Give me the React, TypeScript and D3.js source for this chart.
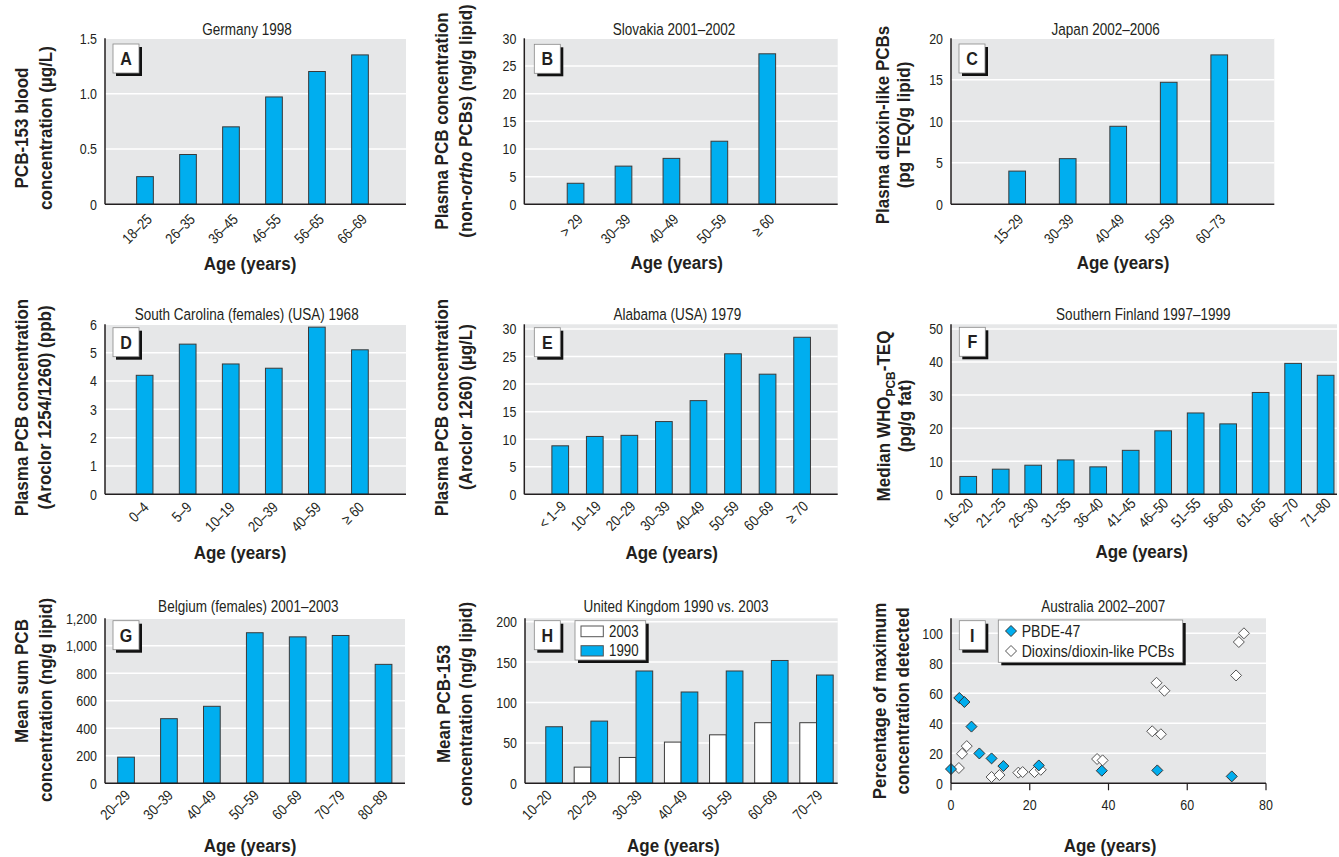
import React from 'react';
import * as d3 from 'd3';

// ---------------- DATA ----------------
const ageA = ['18–25', '26–35', '36–45', '46–55', '56–65', '66–69'];
const valA = [0.25, 0.45, 0.7, 0.97, 1.2, 1.35];

const ageB = ['> 29', '30–39', '40–49', '50–59', '≥ 60'];
const valB = [3.8, 6.9, 8.3, 11.4, 27.2];

const ageC = ['15–29', '30–39', '40–49', '50–59', '60–73'];
const valC = [4.0, 5.5, 9.4, 14.7, 18.0];

const ageD = ['0–4', '5–9', '10–19', '20–39', '40–59', '≥ 60'];
const valD = [4.2, 5.3, 4.6, 4.45, 5.9, 5.1];

const ageE = ['< 1–9', '10–19', '20–29', '30–39', '40–49', '50–59', '60–69', '≥ 70'];
const valE = [8.8, 10.5, 10.7, 13.2, 17.0, 25.5, 21.8, 28.5];

const ageF = ['16–20', '21–25', '26–30', '31–35', '36–40', '41–45', '46–50', '51–55', '56–60', '61–65', '66–70', '71–80'];
const valF = [5.4, 7.6, 8.8, 10.4, 8.3, 13.3, 19.2, 24.6, 21.3, 30.8, 39.6, 36.0];

const ageG = ['20–29', '30–39', '40–49', '50–59', '60–69', '70–79', '80–89'];
const valG = [190, 470, 560, 1095, 1065, 1075, 865];

const ageH = ['10–20', '20–29', '30–39', '40–49', '50–59', '60–69', '70–79'];
const valH2003: (number | null)[] = [null, 20, 32, 51, 60, 75, 75];
const valH1990 = [70, 77, 139, 113, 139, 152, 134];

const pbdeAge = [0, 2.1, 3.4, 5.2, 7.2, 10.3, 13.3, 22.3, 38.3, 52.4, 71.3];
const pbdePct = [9.5, 56.9, 54.2, 37.8, 19.9, 16.6, 11.5, 11.9, 8.4, 8.6, 4.6];
const dioxAge = [2.0, 2.8, 4.0, 10.3, 12.3, 17.1, 18.2, 21.2, 22.8, 37.1, 38.5, 51.1, 53.3, 52.2, 54.2, 72.4, 73.1, 74.4];
const dioxPct = [10.2, 19.7, 24.8, 4.2, 5.5, 7.1, 7.5, 7.5, 9.0, 16.2, 15.3, 34.7, 32.7, 67.0, 61.7, 71.9, 94.2, 100];

const ticksA = [0, 0.5, 1.0, 1.5];
const ticksB = [0, 5, 10, 15, 20, 25, 30];
const ticksC = [0, 5, 10, 15, 20];
const ticksD = [0, 1, 2, 3, 4, 5, 6];
const ticksE = [0, 5, 10, 15, 20, 25, 30];
const ticksF = [0, 10, 20, 30, 40, 50];
const ticksG = [0, 200, 400, 600, 800, 1000, 1200];
const ticksH = [0, 50, 100, 150, 200];
const ticksIy = [0, 20, 40, 60, 80, 100];
const ticksIx = [0, 20, 40, 60, 80];

// ---------------- STYLE ----------------
const FONT = "'Liberation Sans', Arial, sans-serif";
const BLUE = '#00aeef';
const BG = '#e6e7e8';
const INK = '#231f20';
const BAR_W = 16.7;
const SX_REG = 0.83;
const SX_BOLD = 0.92;

function NT({ x, y, r = 0, sx = SX_REG, anchor = 'start', size = 15, bold = false, italic = false, dy, children }: {
  x: number; y: number; r?: number; sx?: number; anchor?: string; size?: number; bold?: boolean; italic?: boolean; dy?: string;
  children: React.ReactNode;
}) {
  return (
    <g transform={`translate(${x},${y}) rotate(${r}) scale(${sx},1)`}>
      <text textAnchor={anchor as any} fontSize={size} fontWeight={bold ? 'bold' : 'normal'} fontStyle={italic ? 'italic' : 'normal'}
        fill={INK} fontFamily={FONT} dy={dy}>{children}</text>
    </g>
  );
}

type Layout = {
  x0: number; x1: number; top: number; bottom: number; bgTop?: number;
  max: number; ticks: number[]; padL: number; padR: number;
  titleX: number; titleY: number; ageX: number; ageY: number;
  yTitleX: [number, number]; yTitleY: [number, number];
  boxX: number; boxY: number; tdx: number; tdy: number;
  fmt: (v: number) => string;
};

const fmtA = (v: number) => (v === 0 ? '0' : d3.format('.1f')(v));
const fmtInt = (v: number) => d3.format(',')(v);

function Frame({ L, letter, title, yTitle }: { L: Layout; letter: string; title: string; yTitle: React.ReactNode[] }) {
  const y = d3.scaleLinear().domain([0, L.max]).range([L.bottom, L.top]);
  const bgTop = L.bgTop ?? L.top;
  return (
    <g>
      <rect x={L.x0} y={bgTop} width={L.x1 - L.x0} height={L.bottom - bgTop} fill={BG} />
      {L.ticks.filter((t) => t > 0).map((t) => (
        <line key={t} x1={L.x0} x2={L.x1} y1={y(t)} y2={y(t)} stroke="#fff" strokeWidth={1.5} />
      ))}
      {L.ticks.map((t) => (
        <NT key={'l' + t} x={L.x0 - 8} y={y(t) + 5.4} anchor="end" size={15}>{L.fmt(t)}</NT>
      ))}
      <NT x={L.titleX} y={L.titleY} anchor="middle" size={16.3}>{title}</NT>
      <NT x={L.ageX} y={L.ageY} anchor="middle" size={18.5} bold sx={SX_BOLD}>Age (years)</NT>
      {yTitle.map((line, i) => (
        <NT key={'yt' + i} x={L.yTitleX[i] + 6.6} y={L.yTitleY[i]} r={-90} anchor="middle" size={18.5} bold sx={SX_BOLD}>{line}</NT>
      ))}
      <rect x={L.boxX + 3} y={L.boxY + 3} width={26} height={29} fill="#111" />
      <rect x={L.boxX} y={L.boxY} width={26} height={29} fill="#fff" stroke="#888" strokeWidth={0.8} />
      <NT x={L.boxX + 13} y={L.boxY + 21} anchor="middle" size={17.5} bold sx={SX_BOLD}>{letter}</NT>
    </g>
  );
}

function Axes({ L }: { L: Layout }) {
  return (
    <g>
      <line x1={L.x0} x2={L.x0} y1={L.bgTop ?? L.top} y2={L.bottom} stroke={INK} strokeWidth={1.5} />
      <line x1={L.x0} x2={L.x1} y1={L.bottom} y2={L.bottom} stroke={INK} strokeWidth={1.5} />
    </g>
  );
}

type Series = { values: (number | null)[]; fill: string; shift: number };

function BarPanel({ L, cats, series, letter, title, yTitle, children }: {
  L: Layout; cats: string[]; series: Series[]; letter: string; title: string; yTitle: React.ReactNode[]; children?: React.ReactNode;
}) {
  const n = cats.length;
  const x = d3.scaleLinear().domain([-L.padL, n - 1 + L.padR]).range([L.x0, L.x1]);
  const y = d3.scaleLinear().domain([0, L.max]).range([L.bottom, L.top]);
  return (
    <g>
      <Frame L={L} letter={letter} title={title} yTitle={yTitle} />
      {series.map((s, si) =>
        s.values.map((v, i) =>
          v == null ? null : (
            <rect key={si + '-' + i} x={x(i) + s.shift * BAR_W} y={y(v)} width={BAR_W} height={L.bottom - y(v)}
              fill={s.fill} stroke="#3a3a3a" strokeWidth={1} />
          )
        )
      )}
      <Axes L={L} />
      {cats.map((c, i) => (
        <NT key={c + i} x={x(i) + L.tdx} y={L.bottom + L.tdy} r={-45} anchor="end" size={15}>{c}</NT>
      ))}
      {children}
    </g>
  );
}

const diamond = (r: number) => `M0,${-r}L${r},0L0,${r}L${-r},0Z`;

function ScatterPanel() {
  const L: Layout = {
    x0: 951, x1: 1266, top: 618.3, bottom: 783.3, max: 110, ticks: ticksIy, padL: 0, padR: 0,
    titleX: 1103.3, titleY: 612, ageX: 1110, ageY: 851.7, yTitleX: [879.3, 902.7], yTitleY: [701, 701],
    boxX: 959.3, boxY: 620.7, tdx: 0, tdy: 0, fmt: fmtInt,
  };
  const x = d3.scaleLinear().domain([0, 80]).range([L.x0, L.x1]);
  const y = d3.scaleLinear().domain([0, L.max]).range([L.bottom, L.top]);
  return (
    <g>
      <Frame L={L} letter="I" title="Australia 2002–2007" yTitle={['Percentage of maximum', 'concentration detected']} />
      {dioxAge.map((a, i) => (
        <path key={'d' + i} d={diamond(5.5)} transform={`translate(${x(a)},${y(dioxPct[i])})`} fill="#fff" stroke="#555" strokeWidth={1} />
      ))}
      {pbdeAge.map((a, i) => (
        <path key={'p' + i} d={diamond(5.5)} transform={`translate(${x(a)},${y(pbdePct[i])})`} fill={BLUE} stroke="#333" strokeWidth={1} />
      ))}
      <Axes L={L} />
      {ticksIx.map((t) => (
        <g key={t}>
          <line x1={x(t)} x2={x(t)} y1={L.bottom} y2={L.bottom + 7} stroke={INK} strokeWidth={1.2} />
          <NT x={x(t)} y={L.bottom + 27} anchor="middle" size={15}>{t}</NT>
        </g>
      ))}
      <rect x={1001.3} y={623} width={184.4} height={42.3} fill="#111" />
      <rect x={998.3} y={620} width={184.4} height={42.3} fill="#fff" stroke="#888" strokeWidth={0.8} />
      <path d={diamond(5.5)} transform="translate(1011,631)" fill={BLUE} stroke="#333" strokeWidth={1} />
      <path d={diamond(5.5)} transform="translate(1011,651)" fill="#fff" stroke="#555" strokeWidth={1} />
      <NT x={1021.7} y={637} size={16} sx={0.88}>PBDE-47</NT>
      <NT x={1021.7} y={657} size={16} sx={0.88}>Dioxins/dioxin-like PCBs</NT>
    </g>
  );
}

export default function App() {
  const LA: Layout = {
    x0: 105, x1: 406, top: 38.3, bottom: 204.3, max: 1.5, ticks: ticksA, padL: 0.93, padR: 1.07,
    titleX: 247, titleY: 35, ageX: 250, ageY: 270, yTitleX: [21.7, 45], yTitleY: [128, 128],
    boxX: 113, boxY: 44, tdx: 8, tdy: 16, fmt: fmtA,
  };
  const LB: Layout = {
    x0: 524.3, x1: 837.7, top: 38.3, bottom: 204.3, max: 30, ticks: ticksB, padL: 1.07, padR: 1.47,
    titleX: 674, titleY: 35, ageX: 676.7, ageY: 269.3, yTitleX: [441.7, 465], yTitleY: [121, 121],
    boxX: 534.3, boxY: 44.3, tdx: 8, tdy: 16, fmt: fmtInt,
  };
  const LC: Layout = {
    x0: 951, x1: 1274.3, top: 38.3, bottom: 204.3, max: 20, ticks: ticksC, padL: 1.31, padR: 1.09,
    titleX: 1105.7, titleY: 35, ageX: 1123, ageY: 269.3, yTitleX: [882.7, 903.3], yTitleY: [125, 125],
    boxX: 959, boxY: 44, tdx: 7, tdy: 16, fmt: fmtInt,
  };
  const LD: Layout = {
    x0: 105, x1: 406, top: 324.3, bottom: 494.3, max: 6, ticks: ticksD, padL: 0.92, padR: 1.07,
    titleX: 246.7, titleY: 319.5, ageX: 240, ageY: 559.3, yTitleX: [21.7, 44], yTitleY: [407.5, 407.5],
    boxX: 113, boxY: 327.7, tdx: 5, tdy: 14, fmt: fmtInt,
  };
  const LE: Layout = {
    x0: 524.3, x1: 837.7, top: 329, bottom: 494.3, bgTop: 324.3, max: 30, ticks: ticksE, padL: 1.04, padR: 1.03,
    titleX: 677.3, titleY: 319.5, ageX: 671.7, ageY: 559.3, yTitleX: [441.7, 465], yTitleY: [407.5, 407],
    boxX: 534.3, boxY: 327.7, tdx: 7, tdy: 13, fmt: fmtInt,
  };
  const LF: Layout = {
    x0: 951, x1: 1337, top: 329, bottom: 494.3, bgTop: 324.3, max: 50, ticks: ticksF, padL: 0.53, padR: 0.35,
    titleX: 1143.3, titleY: 319.5, ageX: 1141.7, ageY: 558.3, yTitleX: [883.3, 904], yTitleY: [416, 416],
    boxX: 959.3, boxY: 327.3, tdx: 6, tdy: 10, fmt: fmtInt,
  };
  const LG: Layout = {
    x0: 105, x1: 405, top: 618.3, bottom: 783.3, max: 1200, ticks: ticksG, padL: 0.49, padR: 0.5,
    titleX: 248.3, titleY: 612, ageX: 250, ageY: 851.7, yTitleX: [21.7, 45], yTitleY: [681, 700],
    boxX: 113, boxY: 620.7, tdx: 5, tdy: 13, fmt: fmtInt,
  };
  const LH: Layout = {
    x0: 525, x1: 837.7, top: 621.7, bottom: 783.3, bgTop: 618.3, max: 200, ticks: ticksH, padL: 0.46, padR: 0.47,
    titleX: 676, titleY: 612, ageX: 673.3, ageY: 851.7, yTitleX: [443.3, 465], yTitleY: [704, 704],
    boxX: 534.3, boxY: 620.7, tdx: 7, tdy: 13, fmt: fmtInt,
  };

  return (
    <svg width={1339} height={857} style={{ position: 'absolute', left: 0, top: 0, display: 'block', background: '#fff' }}
      fontFamily={FONT}>
      <BarPanel L={LA} cats={ageA} series={[{ values: valA, fill: BLUE, shift: -0.5 }]} letter="A" title="Germany 1998"
        yTitle={['PCB-153 blood', 'concentration (µg/L)']} />
      <BarPanel L={LB} cats={ageB} series={[{ values: valB, fill: BLUE, shift: -0.5 }]} letter="B" title="Slovakia 2001–2002"
        yTitle={['Plasma PCB concentration', <>(non-<tspan fontStyle="italic">ortho</tspan> PCBs) (ng/g lipid)</>]} />
      <BarPanel L={LC} cats={ageC} series={[{ values: valC, fill: BLUE, shift: -0.5 }]} letter="C" title="Japan 2002–2006"
        yTitle={['Plasma dioxin-like PCBs', '(pg TEQ/g lipid)']} />
      <BarPanel L={LD} cats={ageD} series={[{ values: valD, fill: BLUE, shift: -0.5 }]} letter="D" title="South Carolina (females) (USA) 1968"
        yTitle={['Plasma PCB concentration', '(Aroclor 1254/1260) (ppb)']} />
      <BarPanel L={LE} cats={ageE} series={[{ values: valE, fill: BLUE, shift: -0.5 }]} letter="E" title="Alabama (USA) 1979"
        yTitle={['Plasma PCB concentration', '(Aroclor 1260) (µg/L)']} />
      <BarPanel L={LF} cats={ageF} series={[{ values: valF, fill: BLUE, shift: -0.5 }]} letter="F" title="Southern Finland 1997–1999"
        yTitle={[<>Median WHO<tspan fontSize={13} dy={5}>PCB</tspan><tspan dy={-5}>-TEQ</tspan></>, '(pg/g fat)']} />
      <BarPanel L={LG} cats={ageG} series={[{ values: valG, fill: BLUE, shift: -0.5 }]} letter="G" title="Belgium (females) 2001–2003"
        yTitle={['Mean sum PCB', 'concentration (ng/g lipid)']} />
      <BarPanel L={LH} cats={ageH} series={[{ values: valH2003, fill: '#fff', shift: -1 }, { values: valH1990, fill: BLUE, shift: 0 }]}
        letter="H" title="United Kingdom 1990 vs. 2003" yTitle={['Mean PCB-153', 'concentration (ng/g lipid)']}>
        <rect x={578} y={623.7} width={70.7} height={39.3} fill="#111" />
        <rect x={575} y={620.7} width={70.7} height={39.3} fill="#fff" stroke="#888" strokeWidth={0.8} />
        <rect x={581} y={626} width={22.3} height={10.7} fill="#fff" stroke="#555" strokeWidth={1} />
        <rect x={581} y={645.7} width={22.3} height={10.3} fill={BLUE} stroke="#555" strokeWidth={1} />
        <NT x={609} y={636.7} size={16}>2003</NT>
        <NT x={609} y={656} size={16}>1990</NT>
      </BarPanel>
      <ScatterPanel />
    </svg>
  );
}
